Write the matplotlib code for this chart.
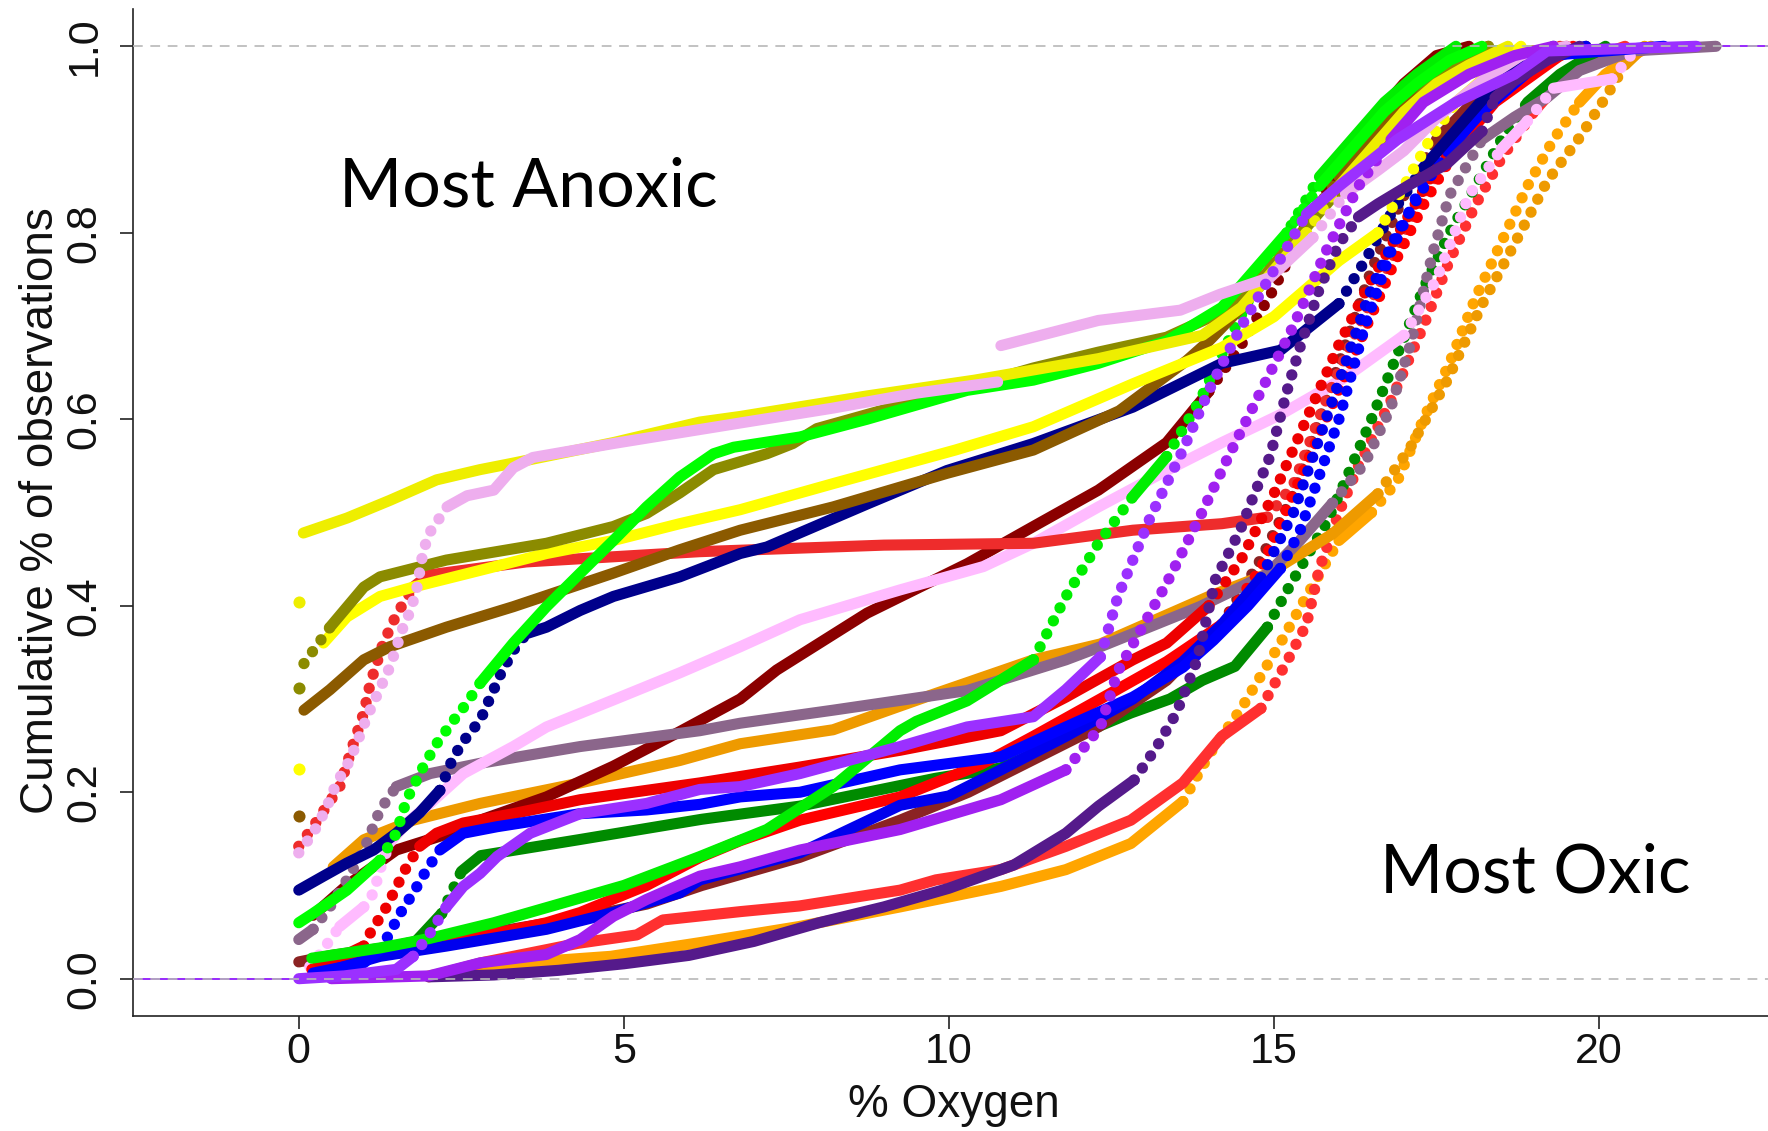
import numpy as np
import matplotlib
matplotlib.use("Agg")
import matplotlib.pyplot as plt

plt.rcParams['font.family'] = ['Liberation Sans', 'DejaVu Sans']
plt.rcParams['lines.scale_dashes'] = False

# Empirical cumulative distributions of % oxygen, one per logger.
# x: % oxygen, y: cumulative fraction of observations.

orange_lo_x = [2.0, 2.8, 3.8, 4.8, 6.2, 7.7, 9.25, 10.8, 11.8, 12.8, 13.6, 14.0, 14.5, 15.1, 15.5, 16.0, 16.5, 16.9, 17.3, 17.7, 18.1, 18.5, 18.9, 19.3, 19.7, 20.1, 20.5, 20.8]
orange_lo_y = [0.003, 0.013, 0.019, 0.024, 0.039, 0.056, 0.077, 0.099, 0.117, 0.145, 0.19, 0.24, 0.29, 0.36, 0.41, 0.47, 0.5, 0.534, 0.6, 0.66, 0.73, 0.79, 0.85, 0.9, 0.94, 0.97, 0.99, 1.0]

red_lo_x = [2.0, 2.8, 4.3, 5.2, 5.6, 6.8, 7.7, 9.25, 9.8, 10.8, 11.8, 12.8, 13.6, 14.2, 14.8, 15.2, 15.5, 15.7, 16.0, 16.3, 16.8, 17.3, 17.7, 18.1, 18.5, 19.0, 19.5, 20.0, 20.4]
red_lo_y = [0.002, 0.017, 0.038, 0.047, 0.063, 0.072, 0.078, 0.095, 0.106, 0.117, 0.142, 0.17, 0.21, 0.26, 0.29, 0.34, 0.38, 0.44, 0.5, 0.55, 0.62, 0.7, 0.77, 0.83, 0.88, 0.93, 0.97, 0.99, 1.0]

dkgreen_x = [0.3, 1.0, 1.8, 2.2, 2.5, 2.8, 4.3, 6.2, 7.7, 9.8, 10.8, 11.8, 12.8, 13.4, 13.9, 14.4, 14.9, 15.2, 15.5, 15.8, 16.1, 16.5, 16.9, 17.3, 17.7, 18.1, 18.5, 18.9, 19.4, 20.1]
dkgreen_y = [0.02, 0.028, 0.04, 0.07, 0.115, 0.132, 0.149, 0.171, 0.185, 0.215, 0.226, 0.256, 0.285, 0.3, 0.32, 0.335, 0.377, 0.416, 0.452, 0.488, 0.534, 0.6, 0.67, 0.74, 0.8, 0.85, 0.9, 0.94, 0.97, 1.0]

brown4_x = [0.0, 0.5, 1.5, 3.0, 4.3, 5.35, 6.2, 7.7, 9.25, 10.3, 11.3, 12.3, 13.35, 14.2, 14.8, 15.3, 15.7, 16.1, 16.5, 17.0, 17.5, 18.2, 19.0, 19.8]
brown4_y = [0.018, 0.025, 0.035, 0.05, 0.065, 0.08, 0.1, 0.13, 0.17, 0.2, 0.235, 0.27, 0.32, 0.38, 0.45, 0.52, 0.6, 0.68, 0.76, 0.84, 0.9, 0.95, 0.98, 1.0]

orange2_x = [0.53, 1.0, 1.76, 2.79, 4.33, 5.86, 6.79, 8.22, 9.76, 11.3, 12.33, 14.0, 14.9, 15.9, 16.6, 17.1, 17.66, 18.2, 18.7, 19.2, 19.7, 20.1, 20.4, 20.7]
orange2_y = [0.12, 0.149, 0.17, 0.188, 0.21, 0.234, 0.252, 0.267, 0.305, 0.342, 0.359, 0.41, 0.434, 0.477, 0.52, 0.57, 0.641, 0.723, 0.788, 0.855, 0.902, 0.945, 0.98, 1.0]

dkred_x = [0.22, 0.74, 1.5, 2.27, 2.79, 3.81, 4.84, 5.86, 6.79, 7.35, 8.74, 10.28, 11.3, 12.3, 13.35, 14.0, 14.5, 15.0, 15.5, 16.0, 16.5, 17.0, 17.5, 18.0]
dkred_y = [0.068, 0.1, 0.138, 0.155, 0.17, 0.195, 0.228, 0.265, 0.3, 0.331, 0.392, 0.445, 0.485, 0.524, 0.575, 0.63, 0.68, 0.74, 0.81, 0.87, 0.92, 0.96, 0.99, 1.0]

graypurple_x = [0.0, 0.22, 0.48, 0.74, 1.0, 1.25, 1.5, 2.02, 2.79, 4.33, 6.17, 6.79, 8.22, 10.28, 11.8, 12.33, 13.86, 14.9, 15.4, 15.9, 16.4, 16.8, 17.1, 17.45, 17.7, 18.2, 18.7, 19.2, 19.7, 20.5, 21.8]
graypurple_y = [0.042, 0.053, 0.077, 0.106, 0.138, 0.181, 0.206, 0.22, 0.231, 0.249, 0.266, 0.274, 0.288, 0.309, 0.342, 0.356, 0.399, 0.434, 0.47, 0.51, 0.553, 0.613, 0.68, 0.78, 0.84, 0.9, 0.924, 0.945, 0.974, 0.995, 1.0]

pink_x = [0.17, 0.33, 0.63, 1.0, 1.15, 1.25, 1.4, 1.66, 2.02, 2.53, 3.3, 3.81, 4.84, 5.86, 6.79, 7.71, 9.25, 10.53, 11.3, 12.3, 13.35, 14.2, 15.1, 16.1, 17.0, 17.5, 18.0, 18.5, 18.9, 19.3, 20.2, 20.6]
pink_y = [0.013, 0.027, 0.056, 0.077, 0.092, 0.117, 0.146, 0.167, 0.188, 0.22, 0.249, 0.27, 0.299, 0.328, 0.356, 0.385, 0.417, 0.442, 0.467, 0.506, 0.545, 0.575, 0.605, 0.645, 0.69, 0.75, 0.84, 0.89, 0.92, 0.955, 0.965, 1.0]

redflat_x = [0.0, 0.22, 0.63, 0.84, 1.0, 1.1, 1.3, 1.5, 1.76, 2.0, 3.5, 6.17, 9.0, 11.3, 12.83, 14.2, 14.9, 15.3, 15.8, 16.3, 16.8, 17.3, 17.8, 18.3, 18.8, 19.4]
redflat_y = [0.142, 0.163, 0.206, 0.252, 0.285, 0.317, 0.36, 0.39, 0.42, 0.433, 0.447, 0.458, 0.465, 0.467, 0.481, 0.488, 0.495, 0.53, 0.62, 0.7, 0.77, 0.84, 0.89, 0.94, 0.97, 1.0]

red2_x = [0.2, 1.0, 2.0, 2.79, 3.81, 4.33, 5.35, 6.17, 6.79, 7.71, 9.25, 10.5, 11.3, 12.33, 13.35, 14.2, 14.8, 15.3, 15.8, 16.3, 16.8, 17.3, 17.8, 18.4, 19.0, 19.6]
red2_y = [0.01, 0.025, 0.035, 0.045, 0.06, 0.071, 0.1, 0.13, 0.148, 0.17, 0.195, 0.23, 0.26, 0.3, 0.34, 0.38, 0.44, 0.52, 0.6, 0.68, 0.76, 0.83, 0.89, 0.94, 0.97, 1.0]

red1_x = [0.3, 0.7, 1.0, 1.1, 1.35, 1.66, 1.86, 2.12, 2.53, 3.3, 4.33, 5.35, 6.17, 7.71, 9.25, 10.8, 11.8, 12.83, 13.35, 14.0, 14.5, 15.0, 15.5, 16.0, 16.5, 17.0, 17.5, 18.0, 18.5, 19.0, 19.5]
red1_y = [0.018, 0.025, 0.035, 0.049, 0.077, 0.12, 0.142, 0.156, 0.167, 0.177, 0.192, 0.202, 0.21, 0.227, 0.245, 0.266, 0.302, 0.342, 0.36, 0.4, 0.45, 0.52, 0.6, 0.68, 0.75, 0.81, 0.87, 0.92, 0.96, 0.99, 1.0]

blue2_x = [0.3, 1.25, 2.27, 3.81, 4.84, 5.86, 6.17, 7.71, 9.25, 10.0, 10.8, 11.8, 12.83, 13.6, 14.2, 14.8, 15.3, 15.7, 16.1, 16.5, 16.9, 17.4, 18.0, 18.6, 19.3, 19.8]
blue2_y = [0.005, 0.024, 0.035, 0.053, 0.071, 0.092, 0.106, 0.135, 0.186, 0.196, 0.224, 0.26, 0.3, 0.34, 0.38, 0.43, 0.5, 0.58, 0.66, 0.74, 0.8, 0.86, 0.92, 0.96, 0.99, 1.0]

blue1_x = [0.22, 1.0, 1.25, 1.4, 1.56, 1.76, 1.97, 2.17, 2.53, 3.05, 4.33, 5.35, 6.17, 6.79, 7.71, 9.25, 10.8, 11.8, 12.83, 13.6, 14.07, 14.6, 15.1, 15.4, 15.6, 16.0, 16.4, 16.8, 17.2, 17.7, 18.2, 18.7, 19.2, 21.0]
blue1_y = [0.006, 0.017, 0.031, 0.049, 0.07, 0.092, 0.117, 0.138, 0.156, 0.163, 0.177, 0.181, 0.187, 0.195, 0.2, 0.224, 0.238, 0.27, 0.302, 0.334, 0.363, 0.4, 0.44, 0.48, 0.52, 0.6, 0.7, 0.78, 0.84, 0.89, 0.93, 0.96, 0.99, 1.0]

greenB_x = [0.2, 1.25, 2.0, 3.0, 4.0, 5.0, 6.17, 7.2, 8.22, 9.25, 9.5, 10.28, 11.3, 11.8, 12.3, 12.83, 13.35, 13.86, 14.2, 14.7, 15.2, 15.7, 16.2, 16.7, 17.2, 17.8]
greenB_y = [0.022, 0.033, 0.043, 0.06, 0.08, 0.1, 0.131, 0.16, 0.206, 0.266, 0.276, 0.298, 0.342, 0.41, 0.467, 0.517, 0.56, 0.62, 0.67, 0.74, 0.8, 0.86, 0.9, 0.94, 0.97, 1.0]

navy_x = [0.0, 0.38, 0.74, 1.15, 1.5, 1.86, 2.17, 2.38, 2.58, 2.79, 3.1, 3.3, 3.5, 3.81, 4.33, 4.84, 5.86, 6.79, 7.2, 8.74, 9.97, 11.3, 12.83, 14.2, 15.1, 16.0, 16.4, 16.8, 17.3, 17.8, 18.3, 18.8, 19.3]
navy_y = [0.095, 0.11, 0.124, 0.138, 0.156, 0.178, 0.202, 0.238, 0.259, 0.277, 0.326, 0.352, 0.37, 0.377, 0.395, 0.41, 0.431, 0.456, 0.463, 0.509, 0.545, 0.574, 0.613, 0.66, 0.674, 0.724, 0.77, 0.82, 0.87, 0.91, 0.95, 0.98, 1.0]

brown_x = [0.08, 0.48, 1.0, 1.4, 2.27, 3.3, 4.07, 4.84, 5.86, 6.79, 8.22, 9.97, 11.3, 12.62, 13.66, 14.0, 14.5, 15.0, 15.5, 16.0, 16.5, 17.0, 17.5, 18.0, 18.3]
brown_y = [0.288, 0.31, 0.342, 0.356, 0.377, 0.399, 0.417, 0.435, 0.46, 0.481, 0.506, 0.542, 0.567, 0.609, 0.663, 0.684, 0.72, 0.76, 0.81, 0.86, 0.9, 0.94, 0.97, 0.99, 1.0]

yellow_x = [0.38, 0.74, 1.25, 1.76, 2.79, 3.81, 4.84, 5.86, 6.79, 8.22, 10.1, 11.3, 12.83, 14.2, 15.0, 15.5, 16.0, 16.6, 17.0, 17.4, 17.8, 18.3, 18.8]
yellow_y = [0.36, 0.388, 0.41, 0.42, 0.438, 0.456, 0.47, 0.488, 0.503, 0.531, 0.567, 0.592, 0.638, 0.677, 0.71, 0.74, 0.77, 0.8, 0.85, 0.9, 0.94, 0.97, 1.0]

olive_x = [0.08, 0.48, 1.0, 1.25, 2.27, 3.81, 4.84, 5.35, 5.86, 6.38, 7.2, 7.6, 7.97, 9.25, 10.3, 11.3, 12.3, 13.35, 14.2, 14.8, 15.3, 15.8, 16.3, 16.8, 17.3, 17.8, 18.3]
olive_y = [0.338, 0.377, 0.42, 0.431, 0.449, 0.467, 0.485, 0.499, 0.521, 0.546, 0.563, 0.574, 0.59, 0.615, 0.635, 0.655, 0.672, 0.688, 0.715, 0.75, 0.79, 0.83, 0.87, 0.91, 0.95, 0.98, 1.0]

greenA_x = [0.0, 0.22, 0.74, 1.25, 1.5, 1.66, 1.92, 2.12, 2.38, 2.58, 2.79, 3.3, 3.81, 4.33, 4.84, 5.35, 5.86, 6.38, 6.69, 7.71, 8.74, 10.28, 11.3, 12.3, 13.35, 14.2, 14.7, 15.2, 15.7, 16.2, 16.7, 17.2, 17.7, 18.2]
greenA_y = [0.06, 0.07, 0.095, 0.127, 0.156, 0.192, 0.228, 0.252, 0.277, 0.295, 0.317, 0.36, 0.399, 0.435, 0.47, 0.506, 0.538, 0.563, 0.57, 0.581, 0.6, 0.631, 0.642, 0.66, 0.684, 0.72, 0.76, 0.8, 0.85, 0.89, 0.93, 0.96, 0.985, 1.0]

yellow2_x = [0.07, 0.74, 1.4, 2.12, 2.79, 3.3, 4.84, 6.17, 6.79, 8.74, 10.4, 12.3, 13.9, 14.5, 15.0, 15.5, 16.0, 16.5, 17.0, 17.5, 18.0, 18.6]
yellow2_y = [0.478, 0.494, 0.513, 0.535, 0.546, 0.553, 0.575, 0.597, 0.603, 0.625, 0.642, 0.665, 0.69, 0.72, 0.76, 0.8, 0.85, 0.89, 0.93, 0.96, 0.98, 1.0]

# the plum curve has a jump at ~10.8 % (step in the ECDF), kept as two runs
plum_lo_x = [0.0, 0.22, 0.38, 0.48, 0.58, 0.74, 0.89, 1.05, 1.4, 1.6, 1.72, 1.82, 1.91, 2.0, 2.28, 2.59, 3.0, 3.3, 3.6, 4.84, 6.79, 8.22, 9.5, 10.75]
plum_lo_y = [0.135, 0.156, 0.177, 0.192, 0.21, 0.228, 0.252, 0.281, 0.334, 0.376, 0.395, 0.42, 0.457, 0.477, 0.506, 0.518, 0.524, 0.548, 0.559, 0.574, 0.596, 0.612, 0.628, 0.64]
plum_hi_x = [10.8, 12.3, 13.56, 14.17, 14.94, 15.6, 16.1, 16.6, 17.0, 17.5, 18.2, 18.8, 19.5]
plum_hi_y = [0.679, 0.706, 0.717, 0.734, 0.752, 0.795, 0.842, 0.867, 0.888, 0.923, 0.963, 0.99, 1.0]

dkpurple_x = [2.0, 3.0, 4.0, 5.0, 6.0, 7.0, 8.0, 9.0, 10.0, 11.0, 11.8, 12.3, 12.85, 13.2, 13.5, 13.82, 14.1, 14.48, 14.7, 14.94, 15.2, 15.4, 15.7, 16.0, 16.3, 16.6, 17.1, 17.66, 18.2, 18.4, 18.7, 19.2, 19.7]
dkpurple_y = [0.002, 0.004, 0.009, 0.016, 0.025, 0.04, 0.06, 0.077, 0.097, 0.122, 0.156, 0.185, 0.213, 0.249, 0.285, 0.342, 0.428, 0.481, 0.52, 0.56, 0.63, 0.677, 0.74, 0.788, 0.817, 0.831, 0.852, 0.874, 0.909, 0.945, 0.963, 0.985, 1.0]

purple2_x = [0.5, 2.0, 2.79, 3.81, 4.33, 4.84, 5.35, 6.17, 6.79, 7.71, 9.25, 10.8, 11.8, 12.33, 12.6, 13.35, 13.86, 14.3, 14.8, 15.3, 15.8, 16.3, 16.8, 17.3, 18.0, 18.7, 19.3]
purple2_y = [0.0, 0.003, 0.017, 0.026, 0.042, 0.067, 0.085, 0.11, 0.12, 0.138, 0.16, 0.192, 0.224, 0.27, 0.33, 0.424, 0.495, 0.56, 0.63, 0.7, 0.78, 0.85, 0.9, 0.94, 0.97, 0.99, 1.0]

purple1_x = [0.0, 0.7, 1.5, 1.76, 2.02, 2.27, 2.53, 2.79, 3.05, 3.56, 4.33, 5.35, 6.17, 6.79, 7.71, 9.25, 10.28, 11.3, 11.8, 12.33, 12.6, 13.1, 13.6, 14.0, 14.5, 15.0, 15.5, 16.0, 16.9, 17.8, 18.7, 19.2, 21.5]
purple1_y = [0.0, 0.003, 0.01, 0.024, 0.049, 0.077, 0.099, 0.113, 0.131, 0.156, 0.177, 0.188, 0.203, 0.206, 0.22, 0.249, 0.27, 0.281, 0.31, 0.345, 0.41, 0.495, 0.567, 0.631, 0.7, 0.76, 0.82, 0.85, 0.9, 0.94, 0.97, 0.995, 1.0]

# curves with a point mass at 0 % whose next step lies well above it
zero_colors = ['#eeee00', '#8b8b00', '#8b5a00', '#ffff00']
zero_values = [0.404, 0.312, 0.175, 0.225]

# drawing order (later curves sit on top)
curves = [
    ('#ffa500', orange_lo_x, orange_lo_y),
    ('#ff3030', red_lo_x, red_lo_y),
    ('#008b00', dkgreen_x, dkgreen_y),
    ('#8b2323', brown4_x, brown4_y),
    ('#ee9a00', orange2_x, orange2_y),
    ('#8b0000', dkred_x, dkred_y),
    ('#8b668b', graypurple_x, graypurple_y),
    ('#ffbbff', pink_x, pink_y),
    ('#ee2c2c', redflat_x, redflat_y),
    ('#ff0000', red2_x, red2_y),
    ('#ee0000', red1_x, red1_y),
    ('#0000ee', blue2_x, blue2_y),
    ('#0000ff', blue1_x, blue1_y),
    ('#00ee00', greenB_x, greenB_y),
    ('#00008b', navy_x, navy_y),
    ('#8b5a00', brown_x, brown_y),
    ('#ffff00', yellow_x, yellow_y),
    ('#8b8b00', olive_x, olive_y),
    ('#00ff00', greenA_x, greenA_y),
    ('#eeee00', yellow2_x, yellow2_y),
    ('#eeaeee', plum_lo_x, plum_lo_y),
    ('#eeaeee', plum_hi_x, plum_hi_y),
    ('#551a8b', dkpurple_x, dkpurple_y),
    ('#a020f0', purple2_x, purple2_y),
    ('#9b30ff', purple1_x, purple1_y),
]

W, H = 1768, 1131
fig = plt.figure(figsize=(W / 100, H / 100), dpi=100)
ax = fig.add_axes([133 / W, 115 / H, 1 - 133 / W, 1007 / H])
XMIN, XMAX = -2.55, 22.6
ax.set_xlim(XMIN, XMAX)
ax.set_ylim(-0.04, 1.04)

LW = 8.0          # dense runs of points read as a solid band
DOT = 8.2         # sparse (steep) runs show the individual points
STEEP = 0.085     # cumulative fraction per % O2 above which points separate


def runs(xs, ys):
    """Split a curve into consecutive runs of steep / shallow segments."""
    xs = np.asarray(xs, float)
    ys = np.asarray(ys, float)
    steep = np.diff(ys) / np.maximum(np.diff(xs), 1e-9) > STEEP
    start = 0
    for i in range(1, len(steep) + 1):
        if i == len(steep) or steep[i] != steep[start]:
            yield steep[start], xs[start:i + 1], ys[start:i + 1]
            start = i


z = 2
for col, xs, ys in curves:
    # ECDF extends flat at 0 before the first value and at 1 after the last
    if ys[0] <= 0.02:
        ax.plot([XMIN, xs[0]], [0, 0], color=col, lw=1.3, zorder=1)
    if ys[-1] >= 1.0:
        ax.plot([xs[-1], XMAX], [1, 1], color=col, lw=1.3, zorder=1)
    for is_steep, rx, ry in runs(xs, ys):
        if is_steep:
            ax.plot(rx, ry, color=col, lw=DOT, dashes=(0.01, 10.5),
                    dash_capstyle='round', zorder=z)
        else:
            ax.plot(rx, ry, color=col, lw=LW, solid_capstyle='round',
                    solid_joinstyle='round', zorder=z)
    z += 1

for col, v in zip(zero_colors, zero_values):
    ax.plot([0], [v], 'o', color=col, ms=DOT + 0.5, mew=0, zorder=z)

for yref in (0.0, 1.0):
    ax.axhline(yref, color='#b8b8b8', lw=1.2, dashes=(7, 5.5), zorder=200)

for side in ('top', 'right'):
    ax.spines[side].set_visible(False)
for side in ('left', 'bottom'):
    ax.spines[side].set_linewidth(1.2)
    ax.spines[side].set_color('#222222')

xticks = [0, 5, 10, 15, 20]
yticks = [0.0, 0.2, 0.4, 0.6, 0.8, 1.0]
ax.set_xticks(xticks)
ax.set_xticklabels([str(t) for t in xticks])
ax.set_yticks(yticks)
ax.set_yticklabels([f'{t:.1f}' for t in yticks], rotation=90, va='center')
ax.tick_params(axis='both', length=9.5, width=1.2, color='#222222',
               labelsize=31, labelcolor='#111111')
ax.tick_params(axis='x', pad=2)
ax.tick_params(axis='y', pad=11)

fig.text(954 / W, (H - 1117) / H, '% Oxygen', fontsize=33, ha='center',
         va='baseline', color='#111111')
fig.text(53 / W, (H - 511) / H, 'Cumulative % of observations', fontsize=33,
         rotation=90, rotation_mode='anchor', ha='center', va='baseline',
         color='#111111')

ax.text(0.62, 0.828, 'Most Anoxic', fontsize=49, family=['Lato', 'DejaVu Sans'],
        ha='left', va='baseline', color='black', zorder=300)
ax.text(16.63, 0.092, 'Most Oxic', fontsize=49, family=['Lato', 'DejaVu Sans'],
        ha='left', va='baseline', color='black', zorder=300)

fig.savefig('out.png', dpi=100)
